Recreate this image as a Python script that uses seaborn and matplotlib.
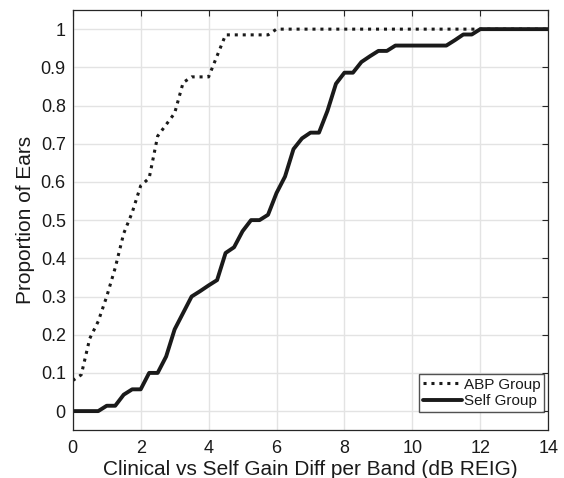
import numpy as np
import pandas as pd
import matplotlib
matplotlib.use("Agg")
import matplotlib.pyplot as plt
import seaborn as sns

# Cumulative proportion of ears vs gain difference (vertices of each curve)
abp_x = [0, 0.25, 0.5, 0.75, 1.0, 1.25, 1.5, 1.75, 2.0, 2.25, 2.5, 2.75, 3.0,
         3.25, 3.5, 4.0, 4.25, 4.5, 5.75, 6.0, 14.0]
abp_y = [0.08, 0.095, 0.19, 0.235, 0.30, 0.375, 0.465, 0.52, 0.59, 0.61, 0.72,
         0.75, 0.78, 0.86, 0.875, 0.875, 0.93, 0.985, 0.985, 1.0, 1.0]

self_x = [0, 0.75, 1.0, 1.25, 1.5, 1.75, 2.0, 2.25, 2.5, 2.75, 3.0, 3.25, 3.5,
          3.75, 4.0, 4.25, 4.5, 4.75, 5.0, 5.25, 5.5, 5.75, 6.0, 6.25, 6.5,
          6.75, 7.0, 7.25, 7.5, 7.75, 8.0, 8.25, 8.5, 8.75, 9.0, 9.25, 9.5,
          11.0, 11.25, 11.5, 11.75, 12.0, 14.0]
self_y = [0, 0, 0.014, 0.014, 0.043, 0.057, 0.057, 0.10, 0.10, 0.143, 0.214,
          0.257, 0.30, 0.314, 0.329, 0.343, 0.414, 0.429, 0.471, 0.50, 0.50,
          0.514, 0.571, 0.614, 0.686, 0.714, 0.729, 0.729, 0.786, 0.857, 0.886,
          0.886, 0.914, 0.929, 0.943, 0.943, 0.957, 0.957, 0.971, 0.986, 0.986,
          1.0, 1.0]

x_ticks = [0, 2, 4, 6, 8, 10, 12, 14]
y_ticks = [0, 0.1, 0.2, 0.3, 0.4, 0.5, 0.6, 0.7, 0.8, 0.9, 1]
y_labels = ["0", "0.1", "0.2", "0.3", "0.4", "0.5", "0.6", "0.7", "0.8", "0.9", "1"]

abp = pd.DataFrame({"diff": abp_x, "prop": abp_y})
slf = pd.DataFrame({"diff": self_x, "prop": self_y})

sns.set_style("white")
plt.rcParams["font.family"] = ["Liberation Sans", "DejaVu Sans"]

fig = plt.figure(figsize=(5.64, 4.78), dpi=100)
ax = fig.add_axes([0.129, 0.100, 0.843, 0.879])

sns.lineplot(data=abp, x="diff", y="prop", ax=ax, color="#1a1a1a", linewidth=2.2,
             linestyle=(0, (1, 1.6)), estimator=None, sort=False, label="ABP Group")
sns.lineplot(data=slf, x="diff", y="prop", ax=ax, color="#1a1a1a", linewidth=2.8,
             estimator=None, sort=False, label="Self Group")

ax.set_xlim(0, 14)
ax.set_ylim(-0.05, 1.05)
ax.set_xticks(x_ticks)
ax.set_xticklabels([str(t) for t in x_ticks])
ax.set_yticks(y_ticks)
ax.set_yticklabels(y_labels)
ax.grid(True, color="#e3e3e3", linewidth=1.0)
ax.set_axisbelow(True)

for s in ax.spines.values():
    s.set_visible(True)
    s.set_color("#262626")
    s.set_linewidth(0.9)

ax.tick_params(direction="in", length=4, width=0.8, color="#262626",
               top=True, right=True, labelsize=13, labelcolor="#1a1a1a")
ax.tick_params(axis="x", pad=7)
ax.tick_params(axis="y", pad=5)

ax.set_xlabel("Clinical vs Self Gain Diff per Band (dB REIG)", fontsize=15, color="#1a1a1a", labelpad=2)
ax.set_ylabel("Proportion of Ears", fontsize=15, color="#1a1a1a", labelpad=4)

leg = ax.legend(loc="lower right", bbox_to_anchor=(0.9916, 0.0436), borderaxespad=0,
                fontsize=11, frameon=True, fancybox=False, handlelength=2.6,
                handletextpad=0.1, borderpad=0.25, labelspacing=0.15)
leg.get_frame().set_edgecolor("#262626")
leg.get_frame().set_linewidth(1.0)
for t in leg.get_texts():
    t.set_color("#1a1a1a")

fig.savefig("out.png", dpi=100)
